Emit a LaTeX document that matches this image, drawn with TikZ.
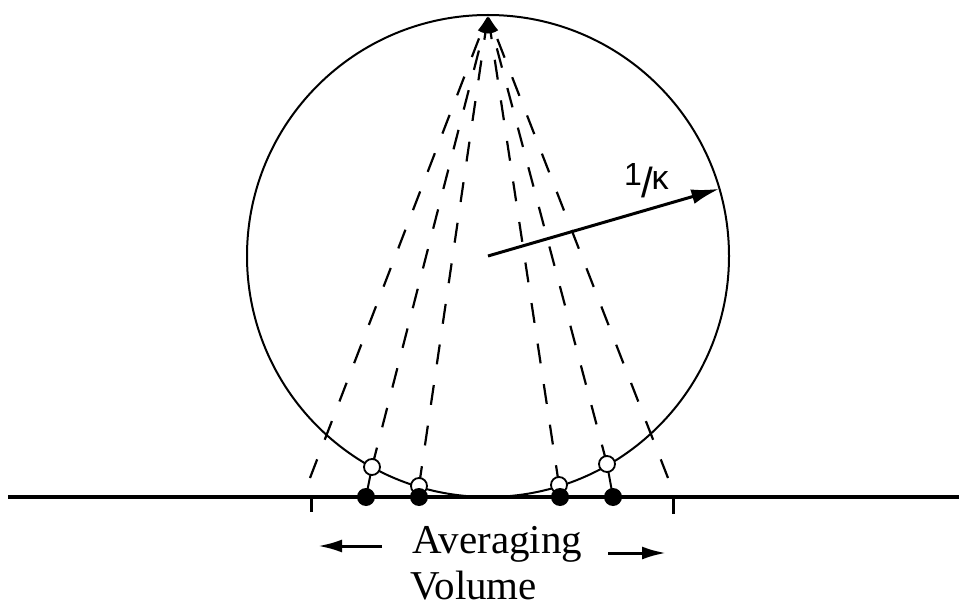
\documentclass[tikz,border=0pt]{standalone}
\usepackage{fontspec}
\setmainfont{Liberation Serif}
\newfontfamily\labelsans{Liberation Sans}
\usetikzlibrary{arrows.meta}
\begin{document}
\begin{tikzpicture}[x=1pt,y=-1pt,
  ray/.style={line width=2.2pt, dash pattern=on 20pt off 21pt, -{Latex[length=18pt,width=8pt]}},
  drop/.style={line width=2pt},
  opendot/.style={circle, draw, line width=1.8pt, fill=white, minimum size=16pt, inner sep=0pt},
  fulldot/.style={circle, fill=black, minimum size=18pt, inner sep=0pt},
  tickmark/.style={line width=3pt},
  bigarrow/.style={line width=3pt, -{Latex[length=28pt,width=15pt]}},
  sidearrow/.style={line width=3pt, -{Latex[length=24pt,width=13pt]}},
  wordtext/.style={anchor=base west, inner sep=0pt, font=\fontsize{41}{41}\selectfont}
]
\useasboundingbox (0,0) rectangle (959,604);
% circle
\coordinate (c) at (488,256);
\coordinate (apex) at (488,15);
\coordinate (rim) at (719.4,188.8);
\draw[line width=2pt] (c) circle[radius=241pt];
% points on the circle and on the line
\coordinate (oa) at (372,467);
\coordinate (ob) at (419,486);
\coordinate (oc) at (559,485);
\coordinate (od) at (607,464);
\coordinate (fa) at (366,497);
\coordinate (fb) at (419,497);
\coordinate (fc) at (560,497);
\coordinate (fd) at (613,497);
\coordinate (el) at (310,478);
\coordinate (er) at (668,478);
% rays
\foreach \p in {el,oa,ob,oc,od,er} \draw[ray] (\p) -- (apex);
\foreach \a/\b in {oa/fa,ob/fb,oc/fc,od/fd} \draw[drop] (\a) -- (\b);
% base line
\coordinate (l0) at (8,497);
\coordinate (l1) at (959,497);
\draw[line width=3.3pt] (l0) -- (l1);
% ticks
\coordinate (ta) at (311,497);
\coordinate (ta2) at (311,512);
\coordinate (tb) at (673,497);
\coordinate (tb2) at (673,514);
\draw[tickmark] (ta) -- (ta2);
\draw[tickmark] (tb) -- (tb2);
% dots
\foreach \p in {oa,ob,oc,od} \node[opendot] (n\p) at (\p) {};
\foreach \p in {fa,fb,fc,fd} \node[fulldot] (n\p) at (\p) {};
% radius
\draw[bigarrow] (c) -- (rim);
\node[anchor=base west, inner sep=0pt] (kap) at (624,186)
  {\labelsans\fontsize{32}{32}\selectfont 1\hspace{-1pt}\raisebox{-12pt}{\fontsize{42}{42}\selectfont/}\hspace{-1pt}\raisebox{-4pt}{\fontsize{34}{34}\selectfont κ}};
% averaging volume
\node[wordtext] (avg) at (412,553) {Averaging};
\node[wordtext] (vol) at (410,599) {Volume};
\coordinate (la0) at (382,546);
\coordinate (la1) at (318,546);
\coordinate (ra0) at (608,553);
\coordinate (ra1) at (666,553);
\draw[sidearrow] (la0) -- (la1);
\draw[sidearrow] (ra0) -- (ra1);
\end{tikzpicture}
\end{document}
